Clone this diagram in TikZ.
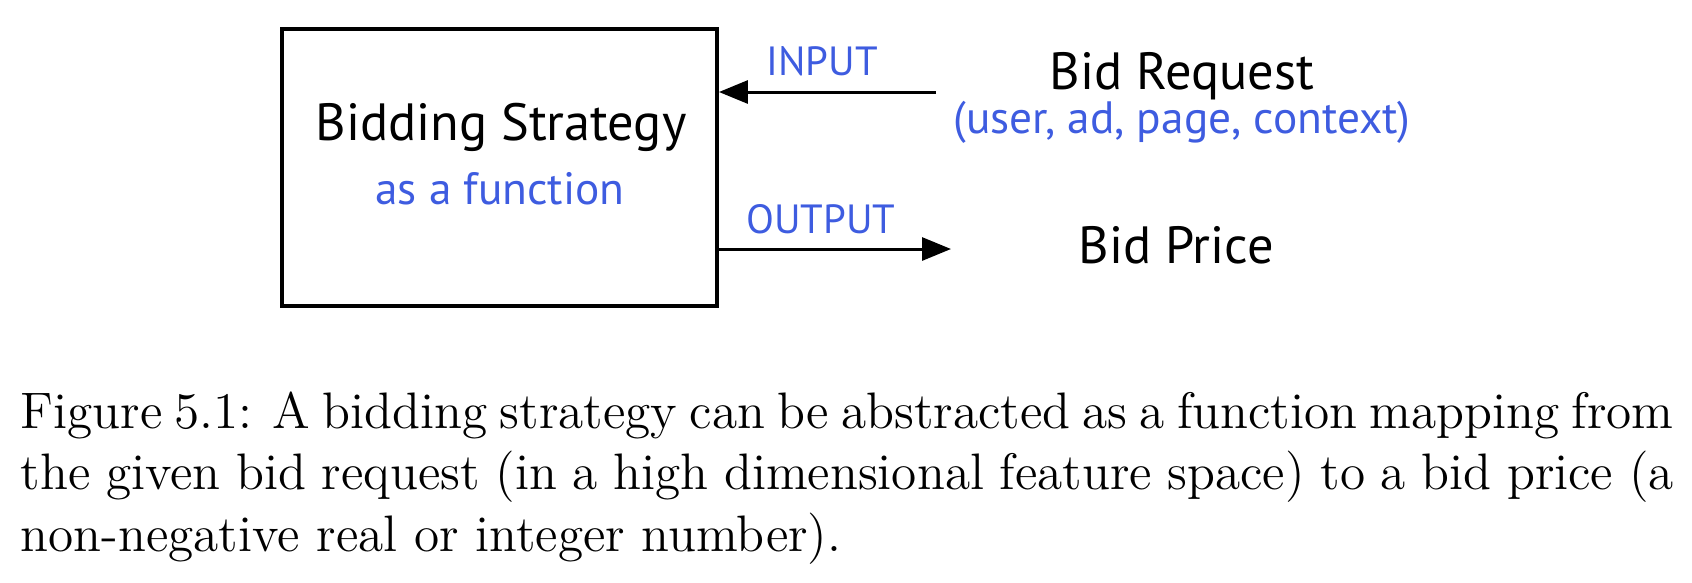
\documentclass[tikz,border=0pt]{standalone}
\usepackage{fontspec}
\usetikzlibrary{arrows.meta}
\newfontfamily\diagfont{PT Sans}
\definecolor{fnblue}{RGB}{62,92,224}
\tikzset{
  bigtxt/.style={font=\diagfont\fontsize{14.9}{17}\selectfont,anchor=base},
  bluetxt/.style={font=\diagfont\fontsize{12.9}{15}\selectfont,text=fnblue,anchor=base},
  tagtxt/.style={font=\diagfont\fontsize{11.6}{13}\selectfont,text=fnblue,anchor=base},
  flow/.style={line width=0.85pt,-{Triangle[length=2.9mm,width=2.3mm]}}
}
\begin{document}
\begin{tikzpicture}
\useasboundingbox (0,0) rectangle (16.92,5.82);
\node[draw,line width=1.1pt,minimum width=4.35cm,minimum height=2.77cm] (strategy) at (4.995,4.145) {};
\node[bigtxt] (title) at (5.01,4.42) {Bidding Strategy};
\node[bluetxt] (func) at (5.00,3.78) {as a function};
\node[bigtxt] (request) at (11.82,4.93) {Bid Request};
\node[bluetxt] (fields) at (11.82,4.49) {(user, ad, page, context)};
\node[bigtxt] (price) at (11.76,3.19) {Bid Price};
\coordinate (inpstart) at (9.36,4.90);
\coordinate (outend) at (9.51,3.33);
\draw[flow] (inpstart) -- (strategy.east |- inpstart);
\draw[flow] (strategy.east |- outend) -- (outend);
\node[tagtxt] (intag) at (8.22,5.07) {INPUT};
\node[tagtxt] (outtag) at (8.21,3.49) {OUTPUT};
% caption
\node[text width=16.53cm,align=justify,anchor=base west,inner sep=0pt,
      font=\fontsize{14.6}{17.6}\selectfont] (caption) at (0.20,1.54)
  {Figure 5.1: A bidding strategy can be abstracted as a function mapping from\linebreak
   the given bid request (in a high dimensional feature space) to a bid price (a\linebreak
   non-negative real or integer number).};
\end{tikzpicture}
\end{document}
